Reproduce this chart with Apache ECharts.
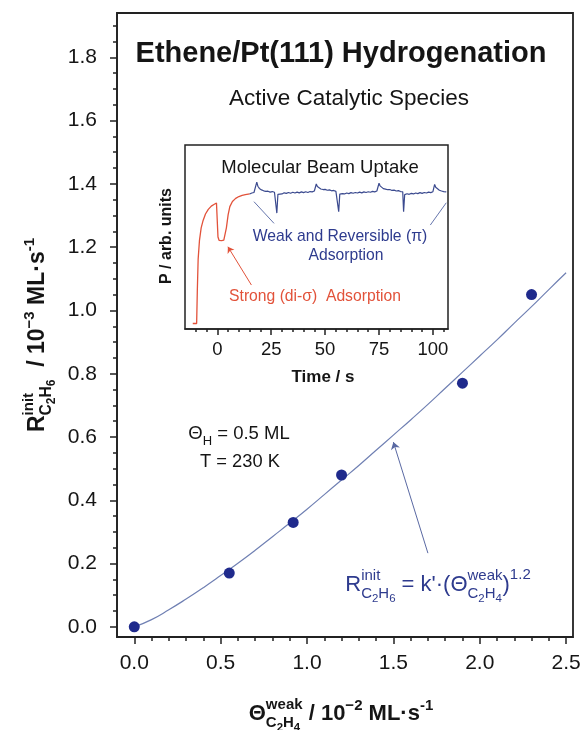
<!DOCTYPE html>
<html>
<head>
<meta charset="utf-8">
<script src="https://cdn.jsdelivr.net/npm/echarts@6/dist/echarts.min.js"></script>
<style>
  html, body { margin: 0; padding: 0; background: #fff; }
  #chart { width: 582px; height: 730px; }
</style>
</head>
<body>
<div id="chart"></div>
<script>
// main plot: initial C2H6 rate vs weakly bound ethene coverage
const coverage = [0, 0.55, 0.92, 1.2, 1.9, 2.3]
const rate = [0, 0.17, 0.33, 0.48, 0.77, 1.05]

// power-law fit, points
const fitX = [0, 0.1, 0.2, 0.3, 0.4, 0.5, 0.6, 0.7, 0.8, 0.9, 1.0, 1.1, 1.2, 1.3, 1.4, 1.5, 1.6, 1.7, 1.8, 1.9, 2.0, 2.1, 2.2, 2.3, 2.4, 2.5]
const fitY = [0, 0.023, 0.054, 0.088, 0.124, 0.162, 0.201, 0.242, 0.285, 0.328, 0.372, 0.418, 0.464, 0.51, 0.558,
  0.606, 0.654, 0.703, 0.754, 0.805, 0.856, 0.907, 0.96, 1.012, 1.066, 1.119]

const xTicks = [0, 0.5, 1.0, 1.5, 2.0, 2.5]
const xMinor = [0.1, 0.2, 0.3, 0.4, 0.6, 0.7, 0.8, 0.9, 1.1, 1.2, 1.3, 1.4, 1.6, 1.7, 1.8, 1.9, 2.1, 2.2, 2.3, 2.4]
const yTicks = [0, 0.2, 0.4, 0.6, 0.8, 1.0, 1.2, 1.4, 1.6, 1.8]
const yMinor = [0.05, 0.1, 0.15, 0.25, 0.3, 0.35, 0.45, 0.5, 0.55, 0.65, 0.7, 0.75, 0.85, 0.9, 0.95,
  1.05, 1.1, 1.15, 1.25, 1.3, 1.35, 1.45, 1.5, 1.55, 1.65, 1.7, 1.75, 1.85, 1.9]

// inset: molecular beam uptake trace (arb. units)
const strongT = [-11.4, -9.6, -9.3, -8.9, -8.3, -7.5, -6.6, -5.5, -4.2, -2.8, -1.4, -0.4, 0, 0.3, 0.8, 2, 3, 3.6, 4.2, 5, 5.8, 7, 8.5, 10, 11.5, 13, 15]
const strongP = [3, 3, 20, 38, 48, 55, 59, 62.5, 65, 66.8, 67.8, 68.5, 69.5, 50, 48.2, 48, 48.3, 49, 55, 62, 66.5, 69.3, 71, 72, 72.6, 73, 73.4]

const weakT = [15, 16, 17, 17.8, 18.3, 18.8, 19.5, 20.5, 21.5, 22.5, 23.5, 24.5, 25.5, 26.5, 27.2, 27.6, 28.1,
  29, 30, 31, 32, 33, 34, 35, 36, 37, 38, 39, 40, 41, 42, 43, 44, 45, 45.5, 45.9, 46.4, 47, 48, 49, 50,
  51, 52, 53, 54, 55, 55.9, 56.3, 56.8, 58, 59, 60, 61, 62, 63, 64, 65, 66, 67, 68, 69, 70, 71, 72, 73, 74,
  74.6, 75.0, 75.5, 76.2, 77, 78, 79, 80, 81, 82, 83, 84, 85, 86, 86.4, 86.9, 88, 89, 90, 91, 92, 93, 94,
  95, 96, 97, 98, 99, 100, 100.5, 100.8, 101.3, 102, 103, 104, 105, 106.2]
const weakP = [73.4, 73.9, 74.2, 74.6, 79.8, 77.6, 76.4, 75.6, 75.1, 74.8, 74.9, 74.4, 74.7, 74.3, 74.2, 63, 73.2,
  73.7, 73.4, 74.0, 73.7, 74.2, 73.8, 74.3, 73.9, 74.4, 74.0, 74.5, 74.1, 74.6, 74.2, 74.7, 74.5, 75.0, 75.1, 78.8, 77.4, 76.6, 76.1, 75.8, 75.9,
  75.4, 75.6, 75.1, 75.3, 74.8, 74.6, 63.8, 73.3, 73.6, 73.4, 73.9, 73.6, 74.1, 73.8, 74.2, 73.9, 74.4, 74.0, 74.5, 74.2, 74.6, 74.3, 74.8, 74.5, 75.0,
  75.2, 79.2, 77.8, 76.8, 76.3, 76.0, 75.7, 75.8, 75.3, 75.5, 75.0, 75.2, 74.7, 74.6, 63.8, 73.0, 73.5, 73.2, 73.7, 73.4, 73.9, 73.6, 74.1,
  73.7, 74.2, 73.9, 74.4, 74.1, 74.6, 74.8, 78.6, 77.0, 76.0, 75.4, 75.0, 74.7, 74.5]

const insetTicks = [0, 25, 50, 75, 100]
const insetMinor = [-10, -5, 5, 10, 15, 20, 30, 35, 40, 45, 55, 60, 65, 70, 80, 85, 90, 95, 105]

// annotation pointers, in data units of their own plot
const fitArrow = [[1.70, 0.233], [1.50, 0.584]]
const weakPointers = [[[17.0, 69.2], [26.3, 57.4]], [[106.2, 68.6], [98.8, 56.5]]]
const strongArrow = [[15.8, 23.9], [4.9, 44.7]]

const FONT = '"Liberation Sans", Arial, Helvetica, sans-serif'
const INK = '#151515'
const BLUE = '#2e3b8e'
const RED = '#e2523a'

const ctx = document.createElement('canvas').getContext('2d')
function textWidth(t, size, bold) {
  ctx.font = (bold ? 'bold ' : '') + size + 'px ' + FONT
  return ctx.measureText(t).width
}

// pieces: [text, size, rise] or {stack: [pieces, pieces]} for super/subscript pairs
function runWidth(pieces, bold) {
  let w = 0
  for (const p of pieces) {
    if (p.stack) w += Math.max(...p.stack.map(s => runWidth(s, bold)))
    else w += textWidth(p[0], p[1], bold)
  }
  return w
}

function layout(pieces, x, baseline, bold, color, out) {
  for (const p of pieces) {
    if (p.stack) {
      let end = x
      for (const s of p.stack) end = Math.max(end, layout(s, x, baseline, bold, color, out))
      x = end
    } else {
      const [t, size, rise] = p
      out.push({
        type: 'text',
        x: x,
        y: baseline - (rise || 0) - 0.31 * size,
        style: {
          text: t,
          font: (bold ? 'bold ' : '') + size + 'px ' + FONT,
          fill: color,
          align: 'left', verticalAlign: 'middle',
          textAlign: 'left', textVerticalAlign: 'middle'
        }
      })
      x += textWidth(t, size, bold)
    }
  }
  return x
}

function mathText(pieces, cx, baseline, bold, color) {
  const out = []
  layout(pieces, cx - runWidth(pieces, bold) / 2, baseline, bold, color, out)
  return out
}

function plain(t, cx, baseline, size, bold, color) {
  return mathText([[t, size, 0]], cx, baseline, bold, color)
}

function ethane(size, n) {
  const s = size * 0.68, ss = size * 0.52
  return [['C', s, -size * 0.3], ['2', ss, -size * 0.45], ['H', s, -size * 0.3], [n, ss, -size * 0.45]]
}

const yTitle = [['R', 23, 0], { stack: [[['init', 15, 11]], ethane(23, '6')] }, ['  / 10', 23, 0], ['−3', 15, 10],
  [' ML·s', 23, 0], ['-1', 15, 10]]
const xTitle = [['Θ', 22, 0], { stack: [[['weak', 15, 11]], ethane(22, '4')] },
  [' / 10', 22, 0], ['−2', 15, 10], [' ML·s', 22, 0], ['-1', 15, 10]]
const formula = [['R', 22, 0], { stack: [[['init', 15, 11]], ethane(22, '6')] },
  [' = k\'·(Θ', 22, 0], { stack: [[['weak', 15, 11]], ethane(22, '4')] },
  [')', 22, 0], ['1.2', 15, 12]]
const thetaH = [['Θ', 18.5, 0], ['H', 13, -5], [' = 0.5 ML', 18.5, 0]]

const graphics = [
  ...plain('Ethene/Pt(111) Hydrogenation', 341, 63, 29, true, INK),
  ...plain('Active Catalytic Species', 349, 106, 22.5, false, INK),
  ...plain('Molecular Beam Uptake', 320, 174, 18.5, false, INK),
  ...plain('Weak and Reversible (π)', 340, 242, 15.7, false, BLUE),
  ...plain('Adsorption', 346, 261, 15.7, false, BLUE),
  ...plain('Strong (di-σ)  Adsorption', 315, 302, 15.7, false, RED),
  ...plain('Time / s', 323, 383, 17, true, INK),
  ...mathText(thetaH, 239, 440, false, INK),
  ...plain('T = 230 K', 240, 468, 18.3, false, INK),
  ...mathText(formula, 438, 592, false, BLUE),
  ...mathText(xTitle, 341, 721, true, INK),
  {
    type: 'group', x: 37, y: 335, rotation: Math.PI / 2,
    children: mathText(yTitle, 0, 8, true, INK)
  },
  {
    type: 'group', x: 166, y: 236, rotation: Math.PI / 2,
    children: plain('P / arb. units', 0, 6, 16, true, INK)
  }
]

const tickLine = { color: '#222', width: 1.5 }
const labelStyle = { fontFamily: FONT, fontSize: 21, color: INK }

function valueAxis(extra) {
  return Object.assign({
    type: 'value',
    splitLine: { show: false },
    axisLine: { show: false, onZero: false },
    axisLabel: { show: false },
    axisTick: { show: false }
  }, extra)
}

const option = {
  animation: false,
  backgroundColor: '#fff',
  grid: [
    { left: 117, top: 13, width: 456, height: 624, show: true, borderColor: '#222', borderWidth: 1.8, outerBoundsMode: 'none' },
    { left: 185, top: 145, width: 263, height: 184, show: true, backgroundColor: '#fff', borderColor: '#222', borderWidth: 1.5, outerBoundsMode: 'none' }
  ],
  xAxis: [
    valueAxis({
      gridIndex: 0, position: 'bottom', min: -0.1, max: 2.54,
      axisLine: { show: true, onZero: false, lineStyle: tickLine },
      axisTick: { show: true, customValues: xTicks, length: 7, lineStyle: tickLine },
      axisLabel: { show: true, customValues: xTicks, margin: 16, formatter: v => v.toFixed(1), ...labelStyle }
    }),
    valueAxis({
      gridIndex: 0, position: 'bottom', min: -0.1, max: 2.54,
      axisTick: { show: true, customValues: xMinor, length: 4, lineStyle: tickLine }
    }),
    valueAxis({
      gridIndex: 1, position: 'bottom', min: -15, max: 107,
      axisLine: { show: true, onZero: false, lineStyle: tickLine },
      axisTick: { show: true, customValues: insetTicks, length: 6, lineStyle: tickLine },
      axisLabel: { show: true, customValues: insetTicks, margin: 11, fontFamily: FONT, fontSize: 18.5, color: INK }
    }),
    valueAxis({
      gridIndex: 1, position: 'bottom', min: -15, max: 107,
      axisTick: { show: true, customValues: insetMinor, length: 3, lineStyle: tickLine }
    })
  ],
  yAxis: [
    valueAxis({
      gridIndex: 0, position: 'left', min: -0.032, max: 1.94,
      axisLine: { show: true, onZero: false, lineStyle: tickLine },
      axisTick: { show: true, customValues: yTicks, length: 7, lineStyle: tickLine },
      axisLabel: { show: true, customValues: yTicks, margin: 20, formatter: v => v.toFixed(1), ...labelStyle }
    }),
    valueAxis({
      gridIndex: 0, position: 'left', min: -0.032, max: 1.94,
      axisTick: { show: true, customValues: yMinor, length: 4, lineStyle: tickLine }
    }),
    valueAxis({ gridIndex: 1, min: 0, max: 100 })
  ],
  series: [
    {
      type: 'line', xAxisIndex: 0, yAxisIndex: 0,
      data: fitX.map((x, i) => [x, fitY[i]]),
      smooth: true, showSymbol: false, silent: true,
      lineStyle: { color: '#7080b3', width: 1.2 }
    },
    {
      type: 'scatter', xAxisIndex: 0, yAxisIndex: 0,
      data: coverage.map((x, i) => [x, rate[i]]),
      symbolSize: 11, itemStyle: { color: '#1f2a8c', opacity: 1 }, z: 5
    },
    {
      type: 'lines', coordinateSystem: 'cartesian2d', xAxisIndex: 0, yAxisIndex: 0,
      data: [{ coords: fitArrow }],
      symbol: ['none', 'arrow'], symbolSize: 7,
      lineStyle: { color: '#5a69a3', width: 1, opacity: 1 }
    },
    {
      type: 'line', xAxisIndex: 2, yAxisIndex: 2,
      data: strongT.map((t, i) => [t, strongP[i]]),
      showSymbol: false, lineStyle: { color: RED, width: 1.3 }
    },
    {
      type: 'line', xAxisIndex: 2, yAxisIndex: 2,
      data: weakT.map((t, i) => [t, weakP[i]]),
      showSymbol: false, lineStyle: { color: '#3b4a8f', width: 1.2 }
    },
    {
      type: 'lines', coordinateSystem: 'cartesian2d', xAxisIndex: 2, yAxisIndex: 2,
      data: weakPointers.map(c => ({ coords: c })),
      symbol: 'none',
      lineStyle: { color: '#6676ad', width: 1, opacity: 1 }
    },
    {
      type: 'lines', coordinateSystem: 'cartesian2d', xAxisIndex: 2, yAxisIndex: 2,
      data: [{ coords: strongArrow }],
      symbol: ['none', 'arrow'], symbolSize: 6,
      lineStyle: { color: RED, width: 1, opacity: 1 }
    }
  ],
  graphic: graphics
}

const chart = echarts.init(document.getElementById('chart'), null, { renderer: 'canvas' })
chart.setOption(option)
</script>
</body>
</html>
